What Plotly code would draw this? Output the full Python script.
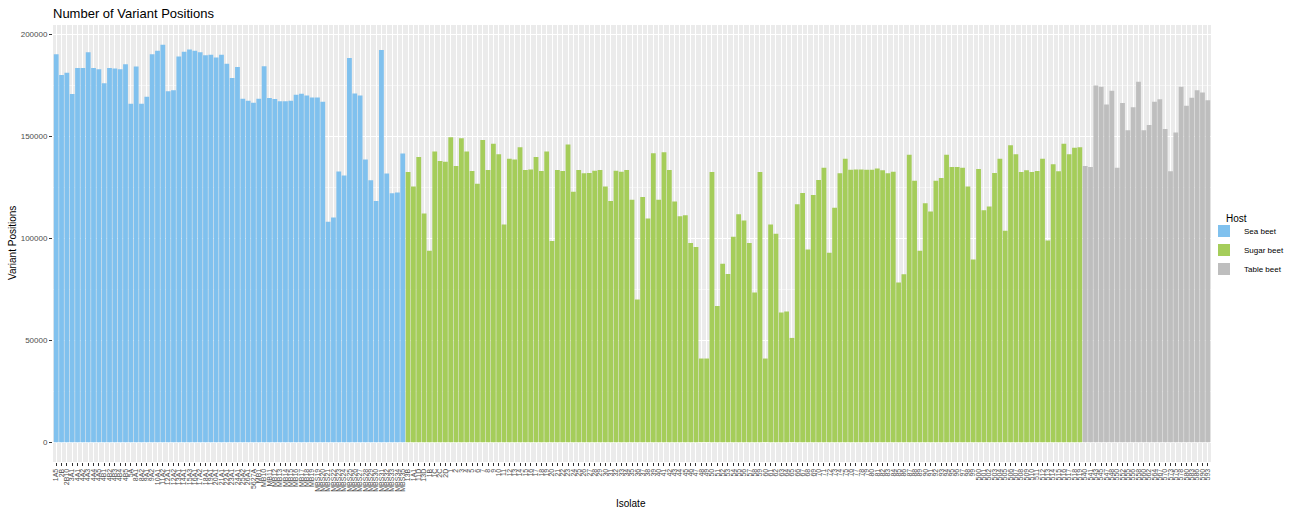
import plotly.graph_objects as go

# ---------------- data ----------------
sea_labels = ["1A5","2B","2B10","3A1","4A1","4A2","4A3","4A4","4A5","4B1","4B2","4B3","4B4","4B5","5A",
              "8A1","8A2","9A1","9A2","10A1","11A2","12A1","12A2","13A1","14A1","15A3","16A1","17A2",
              "18A1","19A1","20A1","21A1","22A1","23A1","24A1","25A2","26A1","5627A","MB1","MB10",
              "MB11","MB12","MB13","MB14","MB15","MB16","MB17","MB18","MB19","MBS19","MBS20","MBS21",
              "MBS22","MBS23","MBS24","MBS25","MBS26","MBS27","MBS28","MBS29","MBS30","MBS31","MBS32",
              "MBS33","MBS34","MBS35"]
sea_values = [190200,180000,181100,170700,183500,183500,191200,183400,182900,176000,183500,183200,182900,
              185300,165900,184200,165900,169400,190200,191900,194800,172100,172600,189100,191400,192500,
              191900,191200,189700,189900,188600,189900,185500,178600,184000,168400,167400,166400,168400,
              184300,168700,168200,167200,167200,167400,170300,170800,170000,169000,169000,166900,108100,
              110200,132700,130700,188400,171000,170000,138600,128400,118300,192300,131700,122100,122400,
              141500]

sugar_labels = ["13B","1A1","11D","13D","1B","1C","2C","2D",
                "1","2","3","4","5","6","7","8","9"] + [str(n) for n in
               [10,11,12,13,14,15,16,17,18,19,20,21,22,23,24,25,26,27,28,29,30,31,32,33,34,35,36,37,38,39,
                40,41,42,43,44,45,46,47,48,49,50,51,52,53,54,55,56,57,58,59,60,61,62,63,64,65,66,67,68,69,
                70,71,72,73,74,75,76,77,78,79,80,81,82,83,84,85,86,87,88,89,90,91,92,93,94,95,96,97,98,99,
                500,501,502,503,504,505,506,507,508,509,510,511,512,513,514,515,516,517,518,519]]
sugar_values = [132400,125400,139800,112100,93900,142500,137800,137500,149500,135400,149000,142500,132900,
                126700,148100,133400,146300,141200,106700,139000,138600,144600,133400,133700,139800,132900,
                142500,98600,133400,132900,145900,122800,133400,131800,132000,133100,133400,125400,118300,
                133100,132600,133400,118800,70000,120200,109700,141700,118800,142200,133400,118000,110800,
                111300,97600,95700,41000,41000,132400,66700,87500,82500,100700,111800,108700,97600,73400,
                132400,41000,106700,102200,63600,64100,51100,116700,122200,94400,121200,128500,134600,92900,
                114900,131800,139000,133600,133700,133700,133600,133600,134200,133300,131800,132600,78300,
                82300,140900,128200,93900,117100,113100,128200,129500,140900,134900,134900,134600,125400,
                89600,133900,113700,115500,132000,139000,103600,145600,141200,132400,133300,132400,132900,
                139000,98900,136300,132800,146300,141200,144300,144600]

table_labels = ["540","541","543","545","547","548","550","552","555","556","558","560","562","564",
                "567","570","573","575","578","580","583","586","590","593"]
table_values = [135400,134900,174900,174300,165500,172300,134600,166300,152900,164200,176700,152900,
                155500,166900,168100,153600,132800,151800,174300,165000,168900,172500,171500,167700]

hosts = ["Sea beet", "Sugar beet", "Table beet"]
colors = ["#80C1EE", "#A5CD5A", "#BEBEBE"]

all_labels = sea_labels + sugar_labels + table_labels

fig = go.Figure()
for name, col, labs, vals in zip(hosts, colors,
                                 [sea_labels, sugar_labels, table_labels],
                                 [sea_values, sugar_values, table_values]):
    fig.add_trace(go.Bar(x=labs, y=vals, name=name, marker=dict(color=col, line=dict(width=0)),
                         width=0.9))

FONT = "Liberation Sans, Arial, sans-serif"
fig.update_layout(
    width=1297, height=512,
    margin=dict(l=53, r=86, t=25, b=50, autoexpand=False),
    paper_bgcolor="white", plot_bgcolor="#EBEBEB",
    font=dict(family=FONT, color="#000000"),
    title=dict(text="Number of Variant Positions", x=53/1297, xanchor="left",
               y=1-13/512, yanchor="middle", font=dict(size=13, color="#000000")),
    barmode="overlay", bargap=0.1,
    showlegend=True,
    legend=dict(font=dict(size=8), x=(1204-53)/1158, xanchor="left",
                y=(462-250)/437, yanchor="middle",
                bgcolor="rgba(0,0,0,0)", tracegroupgap=0, itemsizing="constant"),
    xaxis=dict(type="category", categoryorder="array", categoryarray=all_labels,
               tickmode="array", tickvals=all_labels, ticktext=all_labels,
               tickangle=-90, tickfont=dict(size=7, color="#4D4D4D"),
               ticks="outside", ticklen=3, tickcolor="#333333", tickwidth=0.5,
               showgrid=True, gridcolor="#FFFFFF", gridwidth=1, automargin=False,
               range=[-0.6, len(all_labels)-0.4], zeroline=False),
    yaxis=dict(range=[-9740, 204540], tickvals=[0, 50000, 100000, 150000, 200000],
               ticktext=["0", "50000", "100000", "150000", "200000"],
               tickfont=dict(size=8, color="#4D4D4D"), automargin=False,
               ticks="outside", ticklen=3, tickcolor="#333333", tickwidth=0.5,
               showgrid=True, gridcolor="#FFFFFF", gridwidth=1, zeroline=False,
               minor=dict(tickvals=[25000, 75000, 125000, 175000], showgrid=True,
                          gridcolor="#F5F5F5", gridwidth=0.5, ticks="")),
    annotations=[
        dict(text="Isolate", xref="paper", yref="paper", x=(631-53)/1158, y=-(504-462)/437,
             xanchor="center", yanchor="middle", showarrow=False, font=dict(size=10)),
        dict(text="Variant Positions", xref="paper", yref="paper", x=-(53-13)/1158,
             y=(462-243)/437, textangle=-90, xanchor="center", yanchor="middle",
             showarrow=False, font=dict(size=10)),
        dict(text="Host", xref="paper", yref="paper", x=(1224-53)/1158,
             y=(462-218)/437, xanchor="left", yanchor="middle",
             showarrow=False, font=dict(size=10)),
    ],
)

fig.write_html("out.html", config={"displayModeBar": False},
               post_script="document.body.style.margin='0';document.body.style.padding='0';")
